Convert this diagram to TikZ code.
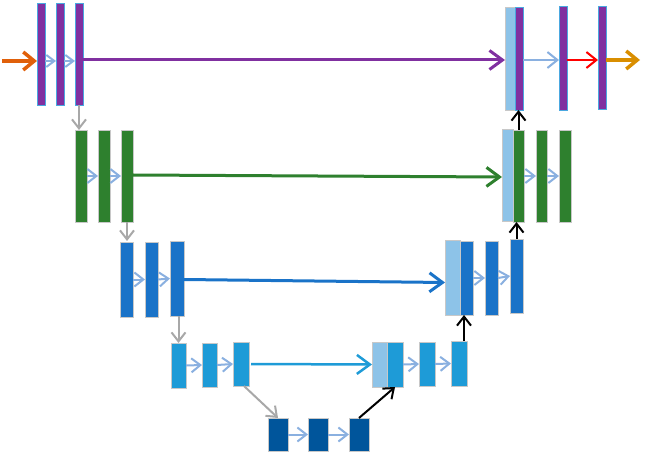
\documentclass[tikz,border=0pt]{standalone}
\usetikzlibrary{arrows.meta}

\definecolor{purplebar}{RGB}{128,48,160}
\definecolor{greenbar}{RGB}{46,128,46}
\definecolor{bluebar}{RGB}{26,115,200}
\definecolor{cyanbar}{RGB}{30,155,215}
\definecolor{navybar}{RGB}{0,85,155}
\definecolor{copybar}{RGB}{141,195,232}
\definecolor{edgeblue}{RGB}{74,168,224}
\definecolor{edgegray}{RGB}{200,200,200}
\definecolor{flowblue}{RGB}{138,176,224}
\definecolor{downgray}{RGB}{168,168,168}
\definecolor{inorange}{RGB}{224,96,10}
\definecolor{outgold}{RGB}{217,142,0}

\begin{document}
\begin{tikzpicture}[x = 1pt, y = -1pt,
	bar/.style = {rectangle, anchor = north west, inner sep = 0, outer sep = 0, line width = 0.8pt, draw = edgegray},
	purple/.style = {bar, fill = purplebar, draw = edgeblue},
	green/.style = {bar, fill = greenbar},
	blue/.style = {bar, fill = bluebar},
	cyan/.style = {bar, fill = cyanbar},
	navy/.style = {bar, fill = navybar},
	copy/.style = {bar, fill = copybar},
	flow/.style = {flowblue, line width = 2pt, -{Straight Barb[length = 9pt, width = 14pt]}},
	skip/.style = {line width = 3pt, -{Straight Barb[length = 13pt, width = 19pt]}},
	down/.style = {downgray, line width = 2pt, -{Straight Barb[length = 9pt, width = 14pt]}},
	up/.style = {black, line width = 2pt, -{Straight Barb[length = 9pt, width = 14pt]}}]

	\useasboundingbox (0, 0) rectangle (650, 462);

	% Level 1

	\node [purple, minimum width = 8pt, minimum height = 102pt] (p1) at (37, 3) {};
	\node [purple, minimum width = 8pt, minimum height = 102pt] (p2) at (56, 3) {};
	\node [purple, minimum width = 8pt, minimum height = 102pt] (p3) at (75, 3) {};

	\node [copy, minimum width = 10pt, minimum height = 103pt] (s1) at (505, 7) {};
	\node [purple, minimum width = 8pt, minimum height = 103pt] (q1) at (515, 7) {};
	\node [purple, minimum width = 8pt, minimum height = 104pt] (q2) at (559, 6) {};
	\node [purple, minimum width = 8pt, minimum height = 103pt] (q3) at (598, 6) {};

	\coordinate (row1) at (0, 61);
	\coordinate (start) at (2, 61);
	\coordinate (finish) at (640, 60);

	\draw [inorange, line width = 3.5pt, -{Straight Barb[length = 11pt, width = 18pt]}] (start) -- (p1.west |- row1);
	\draw [flow, -{Straight Barb[length = 8pt, width = 12pt]}] (p1.east |- row1) -- (p2.west |- row1);
	\draw [flow, -{Straight Barb[length = 8pt, width = 12pt]}] (p2.east |- row1) -- (p3.west |- row1);
	\draw [skip, purplebar] ([yshift = 1pt] p3.east |- row1) -- ([yshift = 1pt] s1.west |- row1);
	\draw [flow, -{Straight Barb[length = 10pt, width = 16pt]}] ([yshift = 1pt] q1.east |- row1) -- ([yshift = 1pt] q2.west |- row1);
	\draw [red, line width = 2pt, -{Straight Barb[length = 10pt, width = 16pt]}] ([yshift = 1pt] q2.east |- row1) -- ([yshift = 1pt] q3.west |- row1);
	\draw [outgold, line width = 3.5pt, -{Straight Barb[length = 11pt, width = 18pt]}] (q3.east |- finish) -- (finish);

	% Level 2

	\node [green, minimum width = 12pt, minimum height = 92pt] (g1) at (75, 130) {};
	\node [green, minimum width = 12pt, minimum height = 92pt] (g2) at (98, 130) {};
	\node [green, minimum width = 12pt, minimum height = 92pt] (g3) at (121, 130) {};

	\node [copy, minimum width = 11pt, minimum height = 92pt] (s2) at (502, 129) {};
	\node [green, minimum width = 11pt, minimum height = 92pt] (h1) at (513, 130) {};
	\node [green, minimum width = 11pt, minimum height = 92pt] (h2) at (536, 130) {};
	\node [green, minimum width = 12pt, minimum height = 92pt] (h3) at (559, 130) {};

	\draw [down] (p3.south) -- (p3.south |- g1.north);
	\draw [flow] (g1.east) -- (g2.west);
	\draw [flow] (g2.east) -- (g3.west);
	\draw [skip, greenbar] ([yshift = 1pt] g3.east) -- ([yshift = -2pt] s2.west);
	\draw [flow] (h1.east) -- (h2.west);
	\draw [flow] (h2.east) -- (h3.west);
	\draw [up] (h1.north) -- (h1.north |- q1.south);

	% Level 3

	\node [blue, minimum width = 13pt, minimum height = 75pt] (b1) at (120, 242) {};
	\node [blue, minimum width = 13pt, minimum height = 75pt] (b2) at (145, 242) {};
	\node [blue, minimum width = 14pt, minimum height = 75pt] (b3) at (170, 241) {};

	\node [copy, minimum width = 15pt, minimum height = 75pt] (s3) at (445, 240) {};
	\node [blue, minimum width = 13pt, minimum height = 74pt] (e1) at (460, 241) {};
	\node [blue, minimum width = 13pt, minimum height = 74pt] (e2) at (485, 241) {};
	\node [blue, minimum width = 13pt, minimum height = 74pt] (e3) at (510, 239) {};

	\draw [down] (g3.south) -- (g3.south |- b3.north);
	\draw [flow] (b1.east) -- (b2.west);
	\draw [flow] (b2.east) -- (b3.west);
	\draw [skip, bluebar] ([yshift = -1pt] b3.east) -- ([yshift = -5pt] s3.west);
	\draw [flow] (e1.east) -- (e2.west);
	\draw [flow] (e2.east) -- (e3.west);
	\draw [up] (e3.north) -- (e3.north |- h1.south);

	% Level 4

	\node [cyan, minimum width = 15pt, minimum height = 45pt] (c1) at (171, 343) {};
	\node [cyan, minimum width = 15pt, minimum height = 44pt] (c2) at (202, 343) {};
	\node [cyan, minimum width = 16pt, minimum height = 44pt] (c3) at (233, 342) {};

	\node [copy, minimum width = 15pt, minimum height = 45pt] (s4) at (372, 342) {};
	\node [cyan, minimum width = 16pt, minimum height = 45pt] (k1) at (387, 342) {};
	\node [cyan, minimum width = 16pt, minimum height = 44pt] (k2) at (419, 342) {};
	\node [cyan, minimum width = 16pt, minimum height = 45pt] (k3) at (451, 341) {};

	\draw [down] (b3.south -| c1.north) -- (c1.north);
	\draw [flow] (c1.east) -- (c2.west);
	\draw [flow] (c2.east) -- (c3.west);
	\draw [skip, cyanbar, line width = 2.5pt] ([xshift = 2pt] c3.east) -- (s4.west);
	\draw [flow] (k1.east) -- (k2.west);
	\draw [flow] (k2.east) -- (k3.west);
	\draw [up] ([xshift = 5pt] k3.north) -- ([xshift = 5pt] k3.north |- e1.south);

	% Level 5

	\node [navy, minimum width = 20pt, minimum height = 33pt] (d1) at (268, 418) {};
	\node [navy, minimum width = 20pt, minimum height = 33pt] (d2) at (308, 418) {};
	\node [navy, minimum width = 20pt, minimum height = 33pt] (d3) at (349, 418) {};

	\draw [down] ([xshift = 3pt] c3.south) -- (d1.north);
	\draw [flow] (d1.east) -- (d2.west);
	\draw [flow] (d2.east) -- (d3.west);
	\draw [up] (d3.north) -- (k1.south);

\end{tikzpicture}
\end{document}
